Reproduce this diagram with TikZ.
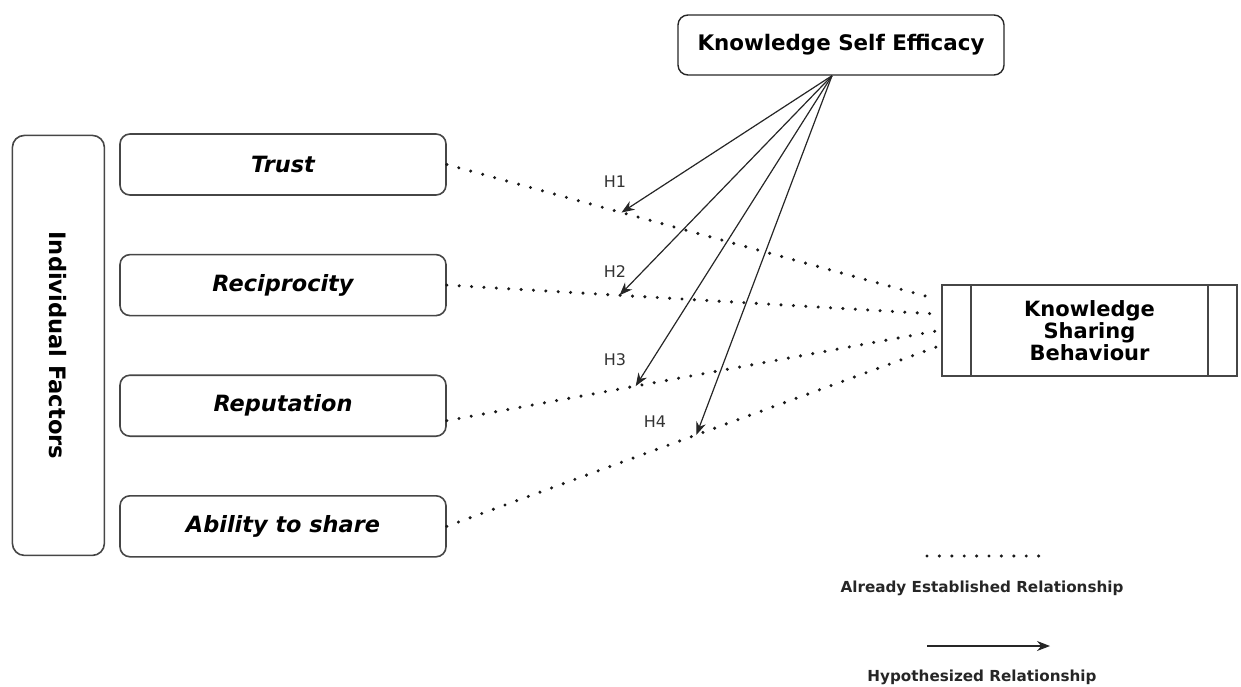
\documentclass[tikz,border=0pt]{standalone}
\usepackage{fontspec}
\setmainfont{DejaVu Sans}[ItalicFont={DejaVu Sans Oblique}, BoldFont={DejaVu Sans Bold}, BoldItalicFont={DejaVu Sans Bold Oblique}]
\usetikzlibrary{arrows.meta, positioning, calc}
\definecolor{boxgrey}{RGB}{70,70,70}
\tikzset{
  factorbox/.style={draw=boxgrey, rounded corners=5pt, line width=0.8pt, minimum width=163pt,
      minimum height=30.5pt, inner sep=0pt, font=\fontsize{11.2}{13}\selectfont\bfseries\itshape},
  groupbox/.style={draw=boxgrey, rounded corners=6pt, line width=0.8pt, minimum width=46pt,
      minimum height=210pt, inner sep=0pt, font=\fontsize{11.3}{13}\selectfont\bfseries},
  ksebox/.style={draw=black!85, rounded corners=5pt, line width=0.7pt, minimum width=163pt,
      minimum height=30pt, inner sep=0pt, font=\fontsize{10.7}{12}\selectfont\bfseries},
  ksbbox/.style={draw=boxgrey, line width=0.8pt, minimum width=147.5pt, minimum height=45.5pt,
      inner sep=0pt, align=center, font=\fontsize{10.5}{11}\selectfont\bfseries},
  estab/.style={black!90, line width=1.7pt, line cap=round, dash pattern=on 0pt off 6.2pt},
  hyparrow/.style={-{Stealth[length=6.5pt, width=5pt]}, line width=0.6pt, black!85},
  hlbl/.style={font=\fontsize{8}{9}\selectfont, text=black!80},
  legendlbl/.style={font=\fontsize{7.6}{9}\selectfont\bfseries, text=black!85},
}

\begin{document}
\begin{tikzpicture}[x=0.5pt, y=-0.5pt]
  \useasboundingbox (0,0) rectangle (1241,686);

  % individual factors
  \node[factorbox] (trust) at (283,164.5) {Trust};
  \node[factorbox, below=29pt of trust] (recip) {Reciprocity};
  \node[factorbox, below=29pt of recip] (reput) {Reputation};
  \node[factorbox, below=29pt of reput] (ability) {Ability to share};
  \coordinate (fmid) at ($(trust.west)!0.5!(ability.west)$);
  \node[groupbox, left=7pt of fmid] (indiv) {\rotatebox{-90}{Individual Factors}};

  % moderator and outcome
  \node[ksebox] (kse) at (841,45) {Knowledge Self Efficacy};
  \node[ksbbox] (ksb) at (1089.5,330.5) {Knowledge\\Sharing\\Behaviour};
  \draw[boxgrey, line width=0.8pt] ($(ksb.north west)+(15pt,0)$) -- ($(ksb.south west)+(15pt,0)$);
  \draw[boxgrey, line width=0.8pt] ($(ksb.north east)+(-15pt,0)$) -- ($(ksb.south east)+(-15pt,0)$);

  % established relationships
  \draw[estab] (trust.east) -- coordinate[pos=0.357] (h1) ($(ksb.west)+(-5,-31.5)$);
  \draw[estab] (recip.east) -- coordinate[pos=0.353] (h2) ($(ksb.west)+(-5,-16.5)$);
  \draw[estab] ($(reput.east)+(0,15)$) -- coordinate[pos=0.386] (h3) ($(ksb.west)+(-5,0.5)$);
  \draw[estab] (ability.east) -- coordinate[pos=0.51] (h4) ($(ksb.west)+(-5,16.5)$);

  % hypothesized relationships
  \coordinate (src) at ($(kse.south)+(-9,0)$);
  \draw[hyparrow] (src) -- (h1);
  \draw[hyparrow] (src) -- (h2);
  \draw[hyparrow] (src) -- (h3);
  \draw[hyparrow] (src) -- (h4);
  \node[hlbl] (lh1) at (615,182) {H1};
  \node[hlbl] (lh2) at (615,272) {H2};
  \node[hlbl] (lh3) at (615,360) {H3};
  \node[hlbl] (lh4) at (655,422) {H4};

  % legend
  \coordinate (dotA) at (927,556);
  \coordinate (dotB) at (1042,556);
  \draw[estab] (dotA) -- (dotB);
  \node[legendlbl] (estlbl) at (982,588) {Already Established Relationship};
  \coordinate (arrA) at (927,646);
  \coordinate (arrB) at (1050,646);
  \draw[hyparrow] (arrA) -- (arrB);
  \node[legendlbl] (hyplbl) at (982,677) {Hypothesized Relationship};
\end{tikzpicture}
\end{document}
